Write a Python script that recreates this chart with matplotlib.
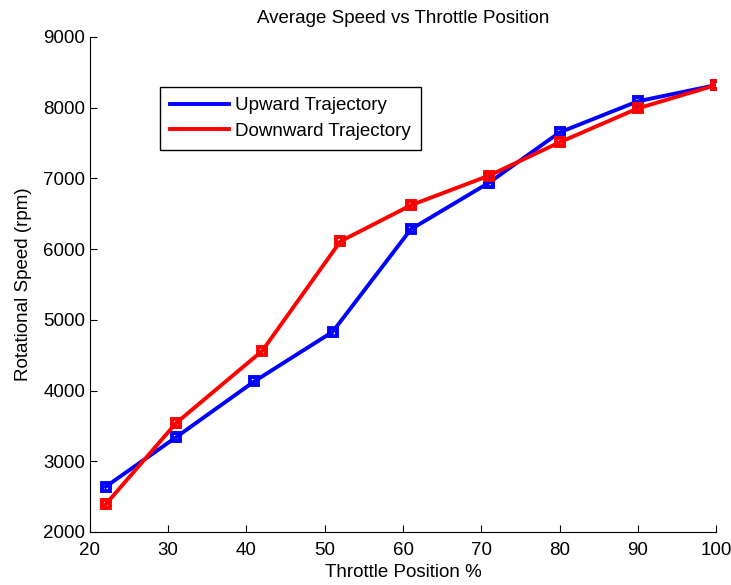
import matplotlib
matplotlib.use("Agg")
import matplotlib.pyplot as plt

plt.rcParams.update({
    'font.family': ['Liberation Sans', 'DejaVu Sans'],
    'font.size': 13.5,
})

# throttle position (%) and measured rotational speed (rpm)
throttle_up = [22, 31, 41, 51, 61, 71, 80, 90, 100]
speed_up = [2640, 3340, 4130, 4830, 6280, 6940, 7650, 8090, 8320]

throttle_down = [22, 31, 42, 52, 61, 71, 80, 90, 100]
speed_down = [2390, 3540, 4560, 6110, 6620, 7040, 7510, 7990, 8320]

fig = plt.figure(figsize=(7.31, 5.85), dpi=100)
ax = fig.add_axes([0.1231, 0.0906, 0.8564, 0.8462])

ax.plot(throttle_up, speed_up, '-s', color='#0000ff', lw=2.8,
        markersize=5.5, markerfacecolor='none', markeredgewidth=2.8,
        label='Upward Trajectory')
ax.plot(throttle_down, speed_down, '-s', color='#ff0000', lw=2.8,
        markersize=5.5, markerfacecolor='none', markeredgewidth=2.8,
        label='Downward Trajectory')

ax.set_xlim(20, 100)
ax.set_ylim(2000, 9000)
ax.set_xticks(range(20, 101, 10))
ax.set_yticks(range(2000, 9001, 1000))
ax.tick_params(direction='in', length=5, labelsize=13.5)
ax.tick_params(axis='x', pad=7)
ax.spines['top'].set_visible(False)
ax.spines['right'].set_visible(False)

ax.set_xlabel('Throttle Position %', fontsize=13.5, labelpad=4)
ax.set_ylabel('Rotational Speed (rpm)', fontsize=13.5, labelpad=8)
ax.set_title('Average Speed vs Throttle Position', fontsize=13.5, pad=10)

leg = ax.legend(loc='upper left', bbox_to_anchor=(0.112, 0.899),
                fancybox=False, edgecolor='black', framealpha=1,
                fontsize=13.5, handlelength=3.1, borderaxespad=0,
                borderpad=0.55, labelspacing=0.45, handletextpad=0.32)
leg.get_frame().set_linewidth(1.0)
for h in leg.legend_handles:
    h.set_marker('')

fig.savefig('out.png', dpi=100)
